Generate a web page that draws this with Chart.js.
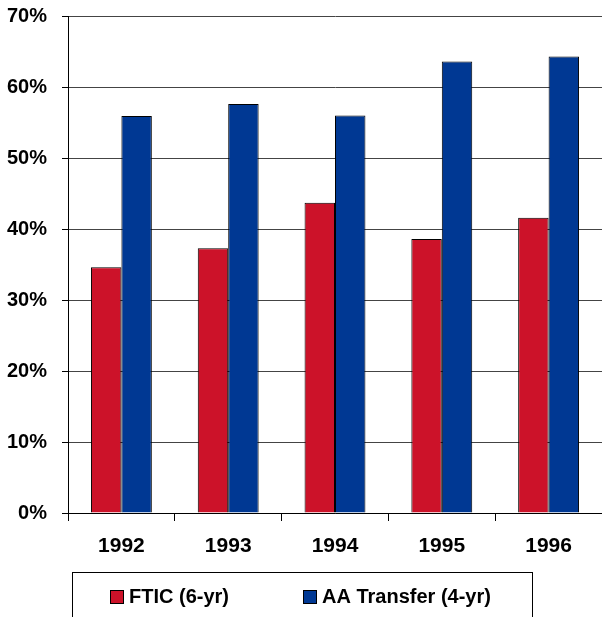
<!DOCTYPE html>
<html>
<head>
<meta charset="utf-8">
<script src="https://cdn.jsdelivr.net/npm/chart.js@4"></script>
<style>
  html, body { margin: 0; padding: 0; background: #fff; }
  #wrap { width: 602px; height: 617px; }
</style>
</head>
<body>
<div id="wrap"><canvas id="gradChart" width="602" height="617"></canvas></div>
<script>
// years on the x axis
const years = ["1992", "1993", "1994", "1995", "1996"];
// graduation rates, percent
const ftic = [34.6, 37.3, 43.7, 38.6, 41.6];
const aaTransfer = [55.9, 57.6, 56.0, 63.6, 64.3];
const seriesNames = ["FTIC (6-yr)", "AA Transfer (4-yr)"];
const yTicks = [0, 10, 20, 30, 40, 50, 60, 70];

const RED = "#cc1229";
const BLUE = "#003893";
const FONT = "'Liberation Sans', Arial, sans-serif";

// legend with a frame, drawn under the axis
const boxedLegend = {
    id: "boxedLegend",
    afterDraw(chart) {
        const ctx = chart.ctx;
        ctx.save();
        ctx.strokeStyle = "#000";
        ctx.lineWidth = 1;
        ctx.strokeRect(72.5, 572.5, 460, 60);

        const items = [
            { x: 110, textX: 129 },
            { x: 303, textX: 322 }
        ];
        ctx.font = "bold 20px " + FONT;
        ctx.textBaseline = "middle";
        ctx.textAlign = "left";
        chart.data.datasets.forEach((ds, i) => {
            const it = items[i];
            ctx.fillStyle = ds.backgroundColor;
            ctx.fillRect(it.x, 590, 13, 13);
            ctx.strokeRect(it.x + 0.5, 590.5, 13, 13);
            ctx.fillStyle = "#000";
            ctx.fillText(ds.label, it.textX, 597);
        });
        ctx.restore();
    }
};

const ctx = document.getElementById("gradChart").getContext("2d");
new Chart(ctx, {
    type: "bar",
    data: {
        labels: years,
        datasets: [
            {
                label: seriesNames[0],
                data: ftic,
                backgroundColor: RED,
                borderColor: "#000",
                borderWidth: 1
            },
            {
                label: seriesNames[1],
                data: aaTransfer,
                backgroundColor: BLUE,
                borderColor: "#000",
                borderWidth: 1
            }
        ]
    },
    options: {
        responsive: false,
        animation: false,
        layout: { padding: { top: 16, right: 0, bottom: 59, left: 0 } },
        categoryPercentage: 0.57,
        barPercentage: 1.0,
        plugins: {
            legend: { display: false },
            tooltip: { enabled: false }
        },
        scales: {
            x: {
                afterFit(scale) { scale.height = 45; },
                grid: {
                    offset: true,
                    drawOnChartArea: false,
                    drawTicks: true,
                    tickLength: 8,
                    color: "#000"
                },
                border: { color: "#000", width: 1 },
                ticks: {
                    padding: 13,
                    color: "#000",
                    font: { family: FONT, size: 21, weight: "bold" }
                }
            },
            y: {
                min: yTicks[0],
                max: yTicks[yTicks.length - 1],
                afterFit(scale) {
                    scale.width = 68;
                    scale.paddingTop = 0;
                    scale.paddingBottom = 0;
                },
                afterBuildTicks(scale) { scale.ticks = yTicks.map(v => ({ value: v })); },
                grid: {
                    color: "#444",
                    tickColor: "#000",
                    tickLength: 6
                },
                border: { color: "#000", width: 1 },
                ticks: {
                    padding: 15,
                    color: "#000",
                    font: { family: FONT, size: 20, weight: "bold" },
                    callback: v => v + "%"
                }
            }
        }
    },
    plugins: [boxedLegend]
});
</script>
</body>
</html>
